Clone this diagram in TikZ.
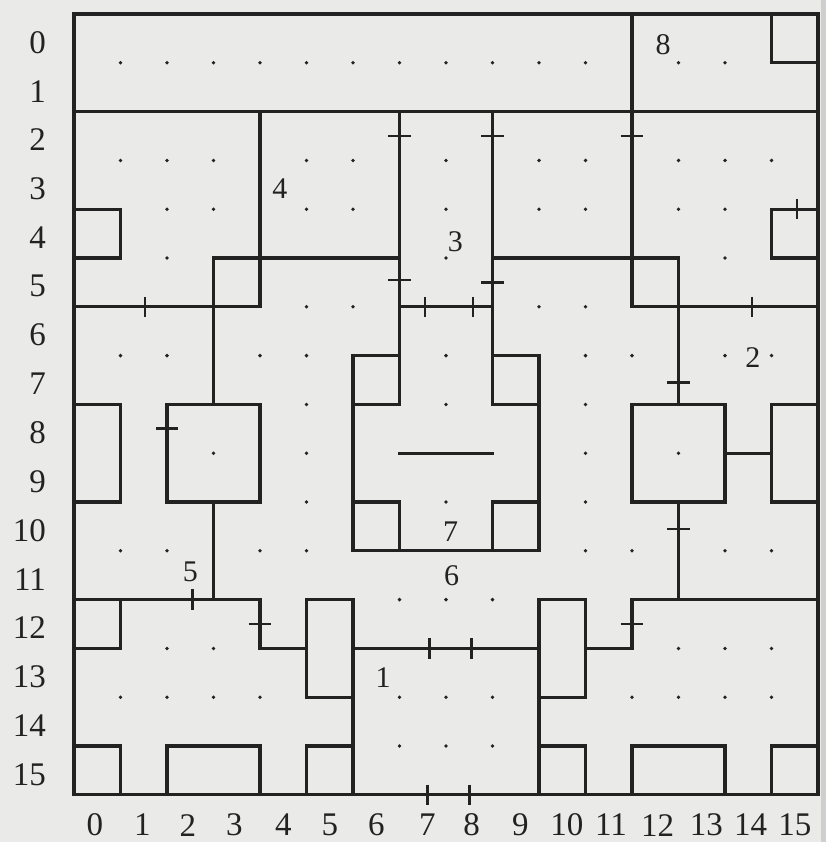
\documentclass[tikz,border=0pt]{standalone}
\usepackage{fontspec}
\setmainfont{Liberation Serif}
\definecolor{paper}{HTML}{EAEAE8}
\definecolor{pageedge}{HTML}{CFCFCD}
\definecolor{ink}{HTML}{222222}
\tikzset{
  wall/.style={ink, line width=3.2pt, line cap=rect},
  doortick/.style={ink, line width=2.7pt},
  axislbl/.style={ink, inner sep=0pt, font=\fontsize{33}{33}\selectfont},
  roomlbl/.style={ink, inner sep=0pt, font=\fontsize{30}{30}\selectfont},
}

\begin{document}
\begin{tikzpicture}[x=46.5pt, y=-48.8pt]
  % Page (1 unit = one square of the map)
  \fill[paper] (-1.5914,-0.287) rectangle (16.172,16.967);
  \useasboundingbox (-1.5914,-0.287) rectangle (16.172,16.967);
  \fill[pageedge] (16.06,-0.287) rectangle (16.172,16.967);

  % Grid points (row / columns)
  \foreach \r/\cols in {1/{1,2,3,4,5,6,7,8,9,10,11,13,14},
                        3/{1,2,3,5,6,8,10,11,13,14,15},
                        4/{2,3,5,6,8,10,11,13,14},
                        5/{2,8,14},
                        6/{5,6,10,11},
                        7/{1,2,4,5,8,11,12,14,15},
                        8/{5,8,11},
                        9/{3,5,11,13},
                        10/{5,8,11},
                        11/{1,2,4,5,11,12,14,15},
                        12/{7,8,9},
                        13/{2,3,13,14,15},
                        14/{1,2,3,4,7,8,9,12,13,14,15},
                        15/{7,8,9}} {
    \foreach \c in \cols
      \fill[ink] (\c,\r) circle (1.9pt);
  }

  % Outer wall
  \draw[wall] (0,0) rectangle (16,16);

  % Inner walls, horizontal (row/from/to)
  \foreach \r/\a/\b in {1/15/16, 2/0/16, 4/0/1, 5/0/1, 5/3/7, 5/9/13, 4/15/16, 5/15/16,
                        6/0/4, 6/7/9, 6/12/16,
                        7/6/7, 8/6/7, 7/9/10, 8/9/10,
                        8/0/1, 10/0/1, 8/2/4, 10/2/4, 9/7/9,
                        8/12/14, 10/12/14, 9/14/15, 8/15/16, 10/15/16,
                        10/6/7, 10/9/10, 11/6/10,
                        12/0/4, 13/0/1, 13/4/5, 12/5/6, 14/5/6,
                        13/6/10, 12/10/11, 14/10/11, 13/11/12, 12/12/16,
                        15/0/1, 15/2/4, 15/5/6, 15/10/11, 15/12/14, 15/15/16}
    \draw[wall] (\a,\r) -- (\b,\r);

  % Inner walls, vertical (column/from/to)
  \foreach \c/\a/\b in {12/0/6, 15/0/1, 4/2/6, 7/2/8, 9/2/8, 1/4/5, 15/4/5,
                        3/5/8, 13/5/8, 6/7/11, 10/7/11,
                        1/8/10, 2/8/10, 4/8/10, 12/8/10, 14/8/10, 15/8/10,
                        7/10/11, 9/10/11, 3/10/12, 13/10/12,
                        1/12/13, 4/12/13, 5/12/14, 6/12/16, 10/12/16, 11/12/14, 12/12/13,
                        1/15/16, 2/15/16, 4/15/16, 5/15/16, 11/15/16, 12/15/16, 14/15/16, 15/15/16}
    \draw[wall] (\c,\a) -- (\c,\b);

  % Doors in vertical walls
  \foreach \c/\r in {7/2.5, 9/2.5, 12/2.5, 7/5.45, 9/5.5, 13/7.55,
                     2/8.5, 13/10.55, 4/12.5, 12/12.5}
    \draw[doortick] (\c-0.24,\r) -- (\c+0.24,\r);

  % Doors in horizontal walls
  \foreach \c/\r in {15.55/4, 1.53/6, 7.55/6, 8.58/6, 14.58/6,
                     2.55/12, 7.65/13, 8.55/13, 7.6/16, 8.5/16}
    \draw[doortick] (\c,\r-0.21) -- (\c,\r+0.21);

  % Room numbers
  \node[roomlbl] (room1) at (6.65,13.6) {1};
  \node[roomlbl] (room2) at (14.6,7.05) {2};
  \node[roomlbl] (room3) at (8.2,4.67) {3};
  \node[roomlbl] (room4) at (4.43,3.57) {4};
  \node[roomlbl] (room5) at (2.5,11.43) {5};
  \node[roomlbl] (room6) at (8.12,11.5) {6};
  \node[roomlbl] (room7) at (8.1,10.6) {7};
  \node[roomlbl] (room8) at (12.67,0.63) {8};

  % Row numbers
  \foreach \j in {0,...,15}
    \node[axislbl, anchor=east] (row\j) at (-0.6,\j+0.58) {\j};

  % Column numbers
  \foreach \i/\xx in {0/0.45, 1/1.47, 2/2.45, 3/3.45, 4/4.5, 5/5.5, 6/6.5, 7/7.6,
                      8/8.55, 9/9.6, 10/10.6, 11/11.55, 12/12.55, 13/13.6, 14/14.55, 15/15.5}
    \node[axislbl] (col\i) at (\xx,16.62) {\i};
\end{tikzpicture}
\end{document}
